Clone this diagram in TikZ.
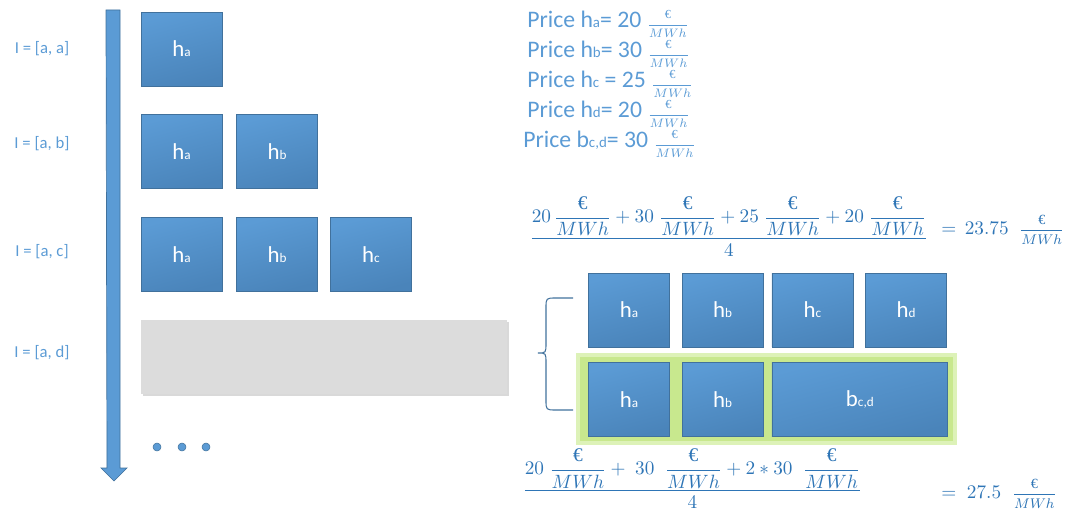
\documentclass[tikz,border=0pt]{standalone}
\usepackage{amsmath}
\usepackage{fontspec}
\setmainfont{Carlito}
\newfontfamily\eurofont{Liberation Serif}
\usetikzlibrary{positioning,shadows}

\definecolor{boxtop}{HTML}{5B9BD5}
\definecolor{boxbot}{HTML}{4A84BA}
\definecolor{boxline}{HTML}{41719C}
\definecolor{lightblue}{HTML}{5B9BD5}
\definecolor{eqblue}{HTML}{2E75B6}
\definecolor{bundlegreen}{HTML}{C8E88E}
\definecolor{bundleedge}{HTML}{DDF2B8}
\definecolor{emptygray}{HTML}{DCDCDC}

\newcommand{\eur}{\text{\eurofont €}}
\newcommand{\perMWh}{\dfrac{\eur}{MWh}}
\newcommand{\lo}[1]{{\fontsize{7.5}{8}\selectfont #1}}
\newcommand{\plo}[1]{{\fontsize{8.5}{9}\selectfont #1}}
\newcommand{\unitfrac}[1]{{\fontsize{#1}{#1}\selectfont$\dfrac{\eur}{MWh}$}}

\begin{document}
\begin{tikzpicture}[
    x=0.02cm, y=-0.02cm,
    node distance=0.56cm and 0.28cm,
    hbox/.style={rectangle, draw=boxline, line width=0.4pt, top color=boxtop, bottom color=boxbot, shading angle=15, minimum width=1.62cm, minimum height=1.48cm, inner sep=0pt, text=white, font=\fontsize{13}{14}\selectfont},
    emptybox/.style={rectangle, fill=emptygray, minimum width=7.32cm, minimum height=1.48cm, drop shadow={shadow xshift=1pt, shadow yshift=-1pt, opacity=0.3}},
    rowlabel/.style={text=lightblue, font=\fontsize{9.5}{10}\selectfont},
    price/.style={text=lightblue, font=\fontsize{13.5}{14}\selectfont, inner sep=0pt},
    eq/.style={text=eqblue, inner sep=0pt, font=\fontsize{11}{12}\selectfont}
]
    \useasboundingbox (0,0) rectangle (1066,510);

    % time axis
    \draw[boxline, line width=0.4pt, fill=lightblue]
        (106,10) -- (120,10) -- (120,468) -- (127,468) -- (114,481) -- (101,468) -- (107,468) -- cycle;

    % left: growing intervals
    \node[rowlabel] (l1) at (42,49) {I = [a, a]};
    \node[rowlabel] (l2) at (42,144) {I = [a, b]};
    \node[rowlabel] (l3) at (42,252) {I = [a, c]};
    \node[rowlabel] (l4) at (42,353) {I = [a, d]};

    \node[hbox] (a1) at (181.5,49) {h\lo{a}};
    \node[hbox, below=of a1] (a2) {h\lo{a}};
    \node[hbox, right=of a2] (b2) {h\lo{b}};
    \node[hbox, below=of a2] (a3) {h\lo{a}};
    \node[hbox, right=of a3] (b3) {h\lo{b}};
    \node[hbox, right=0.24cm of b3] (c3) {h\lo{c}};
    \node[emptybox, below=of a3.south west, anchor=north west] (a4) {};

    \foreach \x in {157,182,206}
        \filldraw[fill=lightblue, draw=boxline, line width=0.3pt] (\x,447) circle (4);

    % prices
    \node[price, anchor=base west] (p1) at (527,28) {Price h\plo{a}= 20 \unitfrac{7}};
    \node[price, anchor=base west] (p2) at (527,58) {Price h\plo{b}= 30 \unitfrac{7}};
    \node[price, anchor=base west] (p3) at (527,88) {Price h\plo{c} = 25 \unitfrac{7}};
    \node[price, anchor=base west] (p4) at (527,118) {Price h\plo{d}= 20 \unitfrac{7}};
    \node[price, anchor=base west] (p5) at (523,148) {Price b\plo{c,d}= 30 \unitfrac{7}};

    % average over single hours
    \node[eq, anchor=base] (avg) at (729,243.5)
        {$\dfrac{20\,\perMWh+30\;\perMWh+25\;\perMWh+20\;\perMWh}{4}$};
    \node[eq, anchor=west] (avgres) at (941,230)
        {$=\,23.75\;\;$\unitfrac{8}};

    % bundle
    \fill[bundlegreen, draw=bundleedge, line width=2pt] (578,355) rectangle (955,443);

    \node[hbox] (ta) at (629,310) {h\lo{a}};
    \node[hbox, right=0.24cm of ta] (tb) {h\lo{b}};
    \node[hbox, right=0.16cm of tb] (tc) {h\lo{c}};
    \node[hbox, right=0.24cm of tc] (td) {h\lo{d}};
    \node[hbox, below=0.3cm of ta] (ua) {h\lo{a}};
    \node[hbox, below=0.3cm of tb] (ub) {h\lo{b}};
    \node[hbox, minimum width=3.52cm, below=0.3cm of tc.south west, anchor=north west] (ucd) {b\lo{c,d}};

    \draw[boxline, line width=0.6pt]
        (573,298) -- (556,298) .. controls (546,298) .. (546,308) -- (546,343)
        .. controls (546,353) .. (538,353) .. controls (546,353) .. (546,363)
        -- (546,400) .. controls (546,410) .. (556,410) -- (573,410);

    % average with bundle price
    \node[eq, anchor=base] (bavg) at (692.5,495.5)
        {$\dfrac{20\;\perMWh+\;30\;\;\perMWh+2*30\;\;\perMWh}{4}$};
    \node[eq, anchor=west] (bavgres) at (941,494)
        {$=\;27.5\;\;$\unitfrac{8}};
\end{tikzpicture}
\end{document}
